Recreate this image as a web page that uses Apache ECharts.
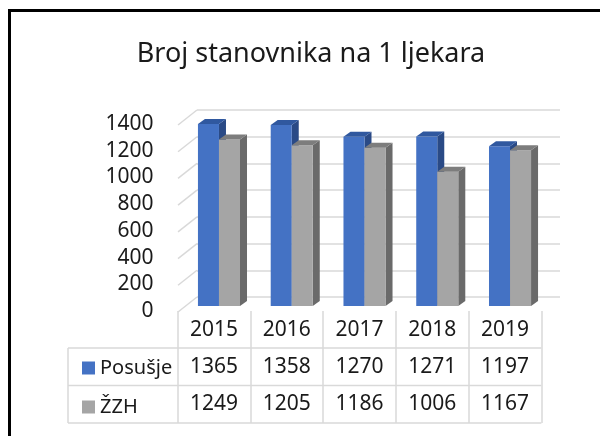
<!DOCTYPE html>
<html>
<head>
<meta charset="utf-8">
<script src="https://cdn.jsdelivr.net/npm/echarts@6/dist/echarts.min.js"></script>
<style>html,body{margin:0;padding:0;background:#fff;}#c{width:600px;height:436px;}</style>
</head>
<body>
<div id="c"></div>
<script>
const titleText = 'Broj stanovnika na 1 ljekara';
const categories = ['2015', '2016', '2017', '2018', '2019'];
const seriesNames = ['Posušje', 'ŽZH'];
const posusje = [1365, 1358, 1270, 1271, 1197];
const zzh = [1249, 1205, 1186, 1006, 1167];
const yMin = 0, yMax = 1400, yStep = 200;

const FONT = 'Noto Sans';
const TXT = '#1a1a1a';
const GRID_C = '#d9d9d9';
const faces = [
  { front: '#4472c4', top: '#30589f', side: '#2a4a86' },
  { front: '#a5a5a5', top: '#7d7d7d', side: '#6a6a6a' }
];
const DX = 7, DY = -5;

function bar3d(col, side) {
  return function (params, api) {
    const i = api.value(0), v = api.value(1);
    const top = api.coord([i, v]);
    const base = api.coord([i, 0]);
    const band = api.size([1, 0])[0];
    const w = band * 0.289;
    const x0 = top[0] + side * w, x1 = x0 + w;
    const yt = top[1], yb = base[1];
    return {
      type: 'group',
      children: [
        { type: 'polygon', shape: { points: [[x1, yt], [x1 + DX, yt + DY], [x1 + DX, yb + DY], [x1, yb]] }, style: { fill: col.side } },
        { type: 'rect', shape: { x: x0, y: yt, width: w, height: yb - yt }, style: { fill: col.front } },
        { type: 'polygon', shape: { points: [[x0, yt], [x1, yt], [x1 + DX, yt + DY], [x0 + DX, yt + DY]] }, style: { fill: col.top } }
      ]
    };
  };
}

const tickVals = [];
for (let v = yMin; v <= yMax; v += yStep) tickVals.push([0, v]);

const chart = echarts.init(document.getElementById('c'), null, { renderer: 'canvas' });
const lbl = { fontFamily: FONT, fontSize: 21, color: TXT };

chart.setOption({
  animation: false,
  backgroundColor: '#fff',
  title: {
    text: titleText, left: 306, top: 36, textAlign: 'center',
    textStyle: { fontFamily: FONT, fontSize: 27, fontWeight: 'normal', color: TXT }
  },
  legend: {
    data: seriesNames, orient: 'vertical', left: 77, top: 353,
    icon: 'rect', itemWidth: 13, itemHeight: 13, itemGap: 19,
    textStyle: { fontFamily: FONT, fontSize: 20, color: TXT }, selectedMode: false
  },
  grid: [
    { left: 182.6, right: 53.6, top: 119.3, bottom: 130 },
    { left: 197, right: 40, top: 110, bottom: 139 },
    { left: 177.6, right: 58.6, top: 124, bottom: 125 }
  ],
  xAxis: [
    { gridIndex: 0, type: 'category', data: categories, show: false },
    { gridIndex: 1, type: 'value', min: 0, max: 1, show: false },
    { gridIndex: 2, type: 'category', data: categories, position: 'bottom',
      axisLine: { show: false },
      axisTick: { show: true, length: 112, interval: 0, lineStyle: { color: GRID_C, width: 1.5 } },
      axisLabel: Object.assign({ margin: 9, interval: 0 }, lbl) },
    { gridIndex: 2, type: 'category', data: posusje.map(String), position: 'bottom', offset: 36.5,
      axisLine: { show: false }, axisTick: { show: false },
      axisLabel: Object.assign({ margin: 9, interval: 0 }, lbl) },
    { gridIndex: 2, type: 'category', data: zzh.map(String), position: 'bottom', offset: 74,
      axisLine: { show: false }, axisTick: { show: false },
      axisLabel: Object.assign({ margin: 9, interval: 0 }, lbl) }
  ],
  yAxis: [
    { gridIndex: 0, type: 'value', min: yMin, max: yMax, interval: yStep, show: false },
    { gridIndex: 1, type: 'value', min: yMin, max: yMax, interval: yStep,
      axisLine: { show: false }, axisTick: { show: false }, axisLabel: { show: false },
      splitLine: { show: true, lineStyle: { color: GRID_C, width: 1.5 } } },
    { gridIndex: 2, type: 'value', min: yMin, max: yMax, interval: yStep,
      axisLine: { show: false }, axisTick: { show: false }, splitLine: { show: false },
      axisLabel: Object.assign({ margin: 24, formatter: v => String(v) }, lbl) }
  ],
  series: [
    { name: 'wall', type: 'custom', xAxisIndex: 1, yAxisIndex: 1, silent: true, z: 1,
      data: tickVals,
      renderItem: function (params, api) {
        const p = api.coord([0, api.value(1)]);
        return { type: 'line', shape: { x1: p[0], y1: p[1], x2: p[0] - 19, y2: p[1] + 15 },
          style: { stroke: GRID_C, lineWidth: 1.5 } };
      } },
    { name: seriesNames[0], type: 'custom', xAxisIndex: 0, yAxisIndex: 0, z: 3,
      itemStyle: { color: faces[0].front },
      data: posusje.map((v, i) => [i, v]), renderItem: bar3d(faces[0], -1) },
    { name: seriesNames[1], type: 'custom', xAxisIndex: 0, yAxisIndex: 0, z: 3,
      itemStyle: { color: faces[1].front },
      data: zzh.map((v, i) => [i, v]), renderItem: bar3d(faces[1], 0) }
  ],
  graphic: [
    { type: 'rect', shape: { x: 9.5, y: 10.5, width: 640, height: 480 },
      style: { fill: null, stroke: '#000', lineWidth: 3 }, silent: true },
    { type: 'line', shape: { x1: 68, y1: 348, x2: 541.4, y2: 348 }, style: { stroke: GRID_C, lineWidth: 1.5 } },
    { type: 'line', shape: { x1: 68, y1: 385.5, x2: 541.4, y2: 385.5 }, style: { stroke: GRID_C, lineWidth: 1.5 } },
    { type: 'line', shape: { x1: 68, y1: 423, x2: 541.4, y2: 423 }, style: { stroke: GRID_C, lineWidth: 1.5 } },
    { type: 'line', shape: { x1: 68, y1: 348, x2: 68, y2: 423 }, style: { stroke: GRID_C, lineWidth: 1.5 } }
  ]
});
</script>
</body>
</html>
